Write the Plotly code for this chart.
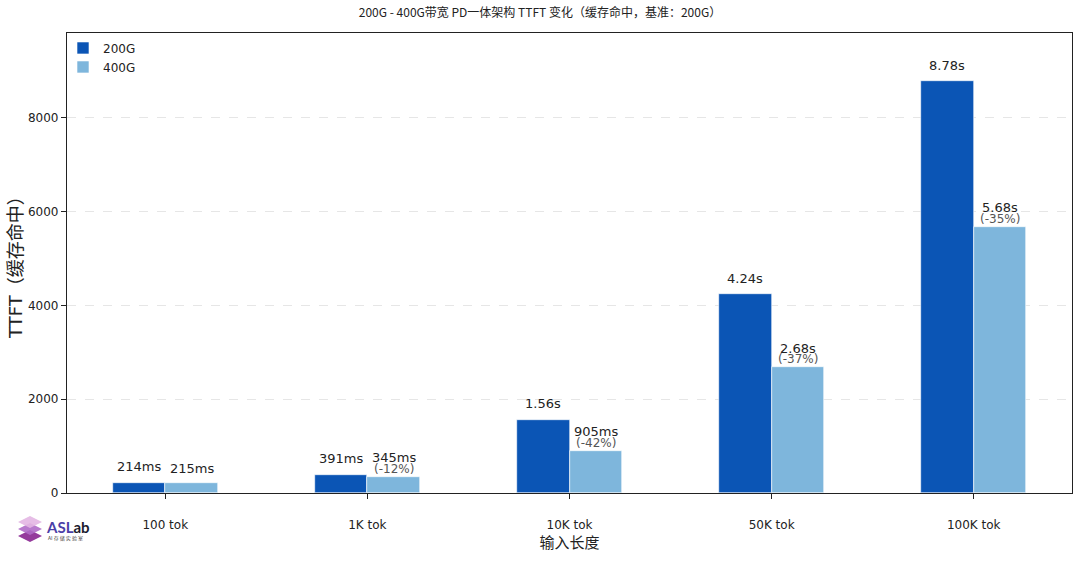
import plotly.graph_objects as go

categories = ["100 tok", "1K tok", "10K tok", "50K tok", "100K tok"]
series_names = ["200G", "400G"]
ttft_200g = [214, 391, 1560, 4240, 8780]
ttft_400g = [215, 345, 905, 2680, 5680]
labels_200g = ["214ms", "391ms", "1.56s", "4.24s", "8.78s"]
labels_400g = ["215ms", "345ms", "905ms", "2.68s", "5.68s"]
pct_400g = ["", "(-12%)", "(-42%)", "(-37%)", "(-35%)"]
yticks = [0, 2000, 4000, 6000, 8000]

C1 = "#0B55B5"
C2 = "#7EB6DC"
FONT = "DejaVu Sans, Noto Sans CJK SC, sans-serif"
W = 0.26
xs = list(range(len(categories)))

# plot-area geometry in pixels (for paper-coordinate helpers)
L, R, T, B = 67, 8, 33, 68
PW, PH = 1080 - L - R, 561 - T - B


def px(x):
    return (x - L) / PW


def py(y):
    return (561 - B - y) / PH


fig = go.Figure()
fig.add_trace(go.Bar(x=xs, y=ttft_200g, name=series_names[0], width=W, offset=-W,
                     marker=dict(color=C1, line=dict(color="white", width=0.6))))
fig.add_trace(go.Bar(x=xs, y=ttft_400g, name=series_names[1], width=W, offset=0,
                     marker=dict(color=C2, line=dict(color="white", width=0.6))))

ann = []
for i in xs:
    ann.append(dict(x=i - W / 2, y=ttft_200g[i], xref="x", yref="y", text=labels_200g[i],
                    showarrow=False, yshift=16, font=dict(size=13, color="#222", family=FONT)))
    if pct_400g[i]:
        ann.append(dict(x=i + W / 2, y=ttft_400g[i], xref="x", yref="y", text=labels_400g[i],
                        showarrow=False, yshift=19, font=dict(size=13, color="#222", family=FONT)))
        ann.append(dict(x=i + W / 2, y=ttft_400g[i], xref="x", yref="y", text=pct_400g[i],
                        showarrow=False, yshift=8, font=dict(size=12, color="#555", family=FONT)))
    else:
        ann.append(dict(x=i + W / 2, y=ttft_400g[i], xref="x", yref="y", text=labels_400g[i],
                        showarrow=False, yshift=14, font=dict(size=13, color="#222", family=FONT)))

# y axis title
ann.append(dict(x=px(15), y=0.5, xref="paper", yref="paper", text="TTFT（缓存命中）",
                textangle=-90, showarrow=False, xanchor="center", yanchor="middle",
                font=dict(size=18, color="#222", family=FONT)))
# logo text
ann.append(dict(x=px(44), y=py(527), xref="paper", yref="paper",
                text="<b><span style='color:#4b3fa8'>ASL</span>ab</b>",
                showarrow=False, xanchor="left", yanchor="middle",
                font=dict(size=15, color="#1a1a2e", family="Lato, DejaVu Sans, sans-serif")))
ann.append(dict(x=px(46), y=py(538), xref="paper", yref="paper",
                text="AI 存 储 实 验 室", showarrow=False, xanchor="left", yanchor="middle",
                font=dict(size=5, color="#444", family="Noto Sans CJK SC, sans-serif")))

# logo icon (stacked diamonds)
shapes = []
for cy, col in [(536, "#8a2591"), (529, "#b06cc8"), (522, "#e3b6e3")]:
    cx, hw, hh = 30, 12, 6
    path = (f"M {px(cx - hw)},{py(cy)} L {px(cx)},{py(cy - hh)} "
            f"L {px(cx + hw)},{py(cy)} L {px(cx)},{py(cy + hh)} Z")
    shapes.append(dict(type="path", xref="paper", yref="paper", path=path,
                       fillcolor=col, line=dict(width=0), opacity=0.9))

fig.update_layout(
    width=1080, height=561,
    margin=dict(l=L, r=R, t=T, b=B, autoexpand=False),
    paper_bgcolor="white", plot_bgcolor="white",
    barmode="overlay", bargap=0,
    title=dict(text="200G - 400G带宽 PD一体架构 TTFT 变化（缓存命中，基准：200G）",
               x=0.5, xanchor="center", y=1 - 13 / 561, yanchor="middle",
               font=dict(size=12, color="#222", family="Noto Sans CJK SC, DejaVu Sans, sans-serif")),
    font=dict(family=FONT, color="#222"),
    legend=dict(x=px(63), y=0.999, xanchor="left", yanchor="top", bgcolor="rgba(0,0,0,0)",
                font=dict(size=12, color="#222", family=FONT), itemwidth=30, tracegroupgap=0),
    annotations=ann,
    shapes=shapes,
    showlegend=True,
)
fig.update_xaxes(range=[-0.486, 4.486], tickvals=xs, ticktext=categories, automargin=False,
                 showline=True, linecolor="#222", linewidth=1.2, mirror=True,
                 ticks="outside", ticklen=5, tickcolor="#222", showgrid=False,
                 tickfont=dict(size=12, color="#222"), ticklabelstandoff=15,
                 title=dict(text="输入长度", font=dict(size=15, color="#222"), standoff=6))
fig.update_yaxes(range=[0, 9813], tickvals=yticks, ticktext=[str(v) for v in yticks], automargin=False,
                 showline=True, linecolor="#222", linewidth=1.2, mirror=True,
                 ticks="outside", ticklen=5, tickcolor="#222",
                 showgrid=True, gridcolor="#e6e6e6", griddash="dash", gridwidth=0.8,
                 zeroline=False, tickfont=dict(size=12, color="#222"))

fig.write_html("out.html", config={"displayModeBar": False},
               post_script="document.body.style.margin='0';")
